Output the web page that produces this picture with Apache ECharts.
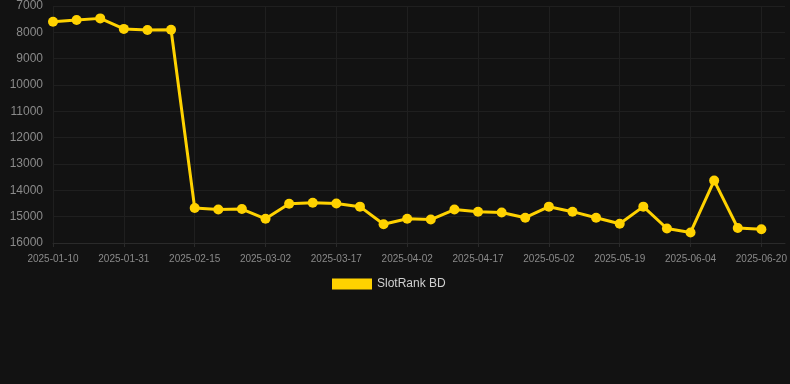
<!DOCTYPE html>
<html>
<head>
<meta charset="utf-8">
<script src="https://cdn.jsdelivr.net/npm/echarts@6/dist/echarts.min.js"></script>
<style>
  html, body { margin: 0; padding: 0; background: #121212; }
  #chart { width: 790px; height: 384px; }
</style>
</head>
<body>
<div id="chart"></div>
<script>
const dates = [
  '2025-01-10', '2025-01-17', '2025-01-24', '2025-01-31', '2025-02-05', '2025-02-10',
  '2025-02-15', '2025-02-20', '2025-02-25', '2025-03-02', '2025-03-07', '2025-03-12',
  '2025-03-17', '2025-03-22', '2025-03-27', '2025-04-02', '2025-04-07', '2025-04-12',
  '2025-04-17', '2025-04-22', '2025-04-27', '2025-05-02', '2025-05-08', '2025-05-13',
  '2025-05-19', '2025-05-24', '2025-05-29', '2025-06-04', '2025-06-09', '2025-06-14',
  '2025-06-20', '2025-06-25',
];
const ranks = [
  7600, 7530, 7470, 7870, 7910, 7900,
  14670, 14730, 14710, 15080, 14510, 14470,
  14500, 14620, 15290, 15080, 15110, 14730,
  14810, 14840, 15040, 14620, 14810, 15040,
  15270, 14620, 15450, 15600, 13630, 15430,
  15480, null,
];

const GRID = '#1f1f1f';
const MUTED = '#8a8a8a';
const GOLD = '#ffd200';

const chart = echarts.init(document.getElementById('chart'));
chart.setOption({
  backgroundColor: '#121212',
  animation: false,
  grid: { left: 53, right: 5, top: 6, bottom: 141, containLabel: false },
  legend: {
    top: 273,
    left: 327,
    itemWidth: 40,
    itemHeight: 11,
    icon: 'rect',
    textStyle: { color: '#d0d0d0', fontSize: 12 },
    data: ['SlotRank BD'],
  },
  xAxis: {
    type: 'category',
    data: dates,
    boundaryGap: false,
    axisLine: { lineStyle: { color: '#2a2a2a' } },
    axisTick: { show: true, interval: 2, length: 4, lineStyle: { color: '#2a2a2a' } },
    axisLabel: { color: MUTED, fontSize: 10, interval: 2, margin: 11 },
    splitLine: { show: true, interval: 2, lineStyle: { color: GRID } },
  },
  yAxis: {
    type: 'value',
    inverse: true,
    min: 7000,
    max: 16000,
    interval: 1000,
    axisLine: { show: false },
    axisTick: { show: false },
    axisLabel: { color: MUTED, fontSize: 12, margin: 10, formatter: v => String(v) },
    splitLine: { lineStyle: { color: GRID } },
  },
  series: [{
    name: 'SlotRank BD',
    type: 'line',
    data: ranks,
    symbol: 'circle',
    symbolSize: 10,
    itemStyle: { color: GOLD },
    lineStyle: { color: GOLD, width: 3 },
  }],
});
</script>
</body>
</html>
